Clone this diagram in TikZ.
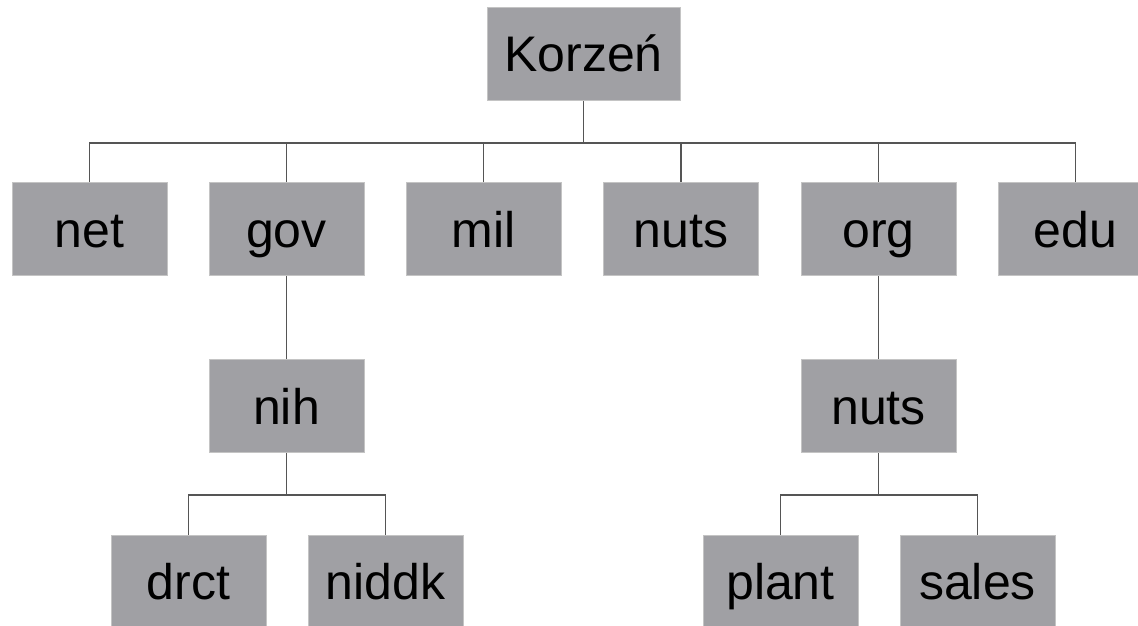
\documentclass[tikz,border=0pt]{standalone}
\usepackage{fontspec}
\setmainfont{Liberation Sans}
\definecolor{boxfill}{HTML}{A0A0A4}
\definecolor{boxline}{HTML}{C4C4C4}
\definecolor{conn}{HTML}{555555}
\begin{document}
\begin{tikzpicture}[x=1pt,y=-1pt,
  box/.style={draw=boxline, line width=1pt, fill=boxfill, minimum width=155pt, minimum height=93pt, inner sep=0pt,
    text height=40pt, text depth=4pt,
    font=\fontsize{50}{60}\selectfont, text=black, anchor=center},
  link/.style={draw=conn, line width=1.3pt}]
\useasboundingbox (0,0) rectangle (1138,626);
\clip (0,0) rectangle (1138,626);
\node[box, minimum width=193pt] (root) at (583.5,54) {Korzeń};
\node[box] (net) at (89.5,229) {net};
\node[box] (gov) at (286.5,229) {gov};
\node[box] (mil) at (483.5,229) {mil};
\node[box] (nuts) at (681,229) {nuts};
\node[box] (org) at (878.5,229) {org};
\node[box] (edu) at (1075.5,229) {edu};
\node[box] (nih) at (286.5,406) {nih};
\node[box] (nuts2) at (878.5,406) {nuts};
\node[box] (drct) at (188.5,581.5) {drct};
\node[box] (niddk) at (385.5,581.5) {niddk};
\node[box] (plant) at (780.5,581.5) {plant};
\node[box] (sales) at (977.5,581.5) {sales};
\coordinate (j0) at (583.5,143);
\coordinate (j1) at (286.5,495);
\coordinate (j2) at (878.5,495);
\draw[link] (root.south) -- (j0);
\foreach \c in {net,gov,mil,nuts,org,edu} \draw[link] (\c.north) |- (j0);
\draw[link] (gov.south) -- (nih.north);
\draw[link] (org.south) -- (nuts2.north);
\draw[link] (nih.south) -- (j1);
\draw[link] (drct.north) |- (j1);
\draw[link] (niddk.north) |- (j1);
\draw[link] (nuts2.south) -- (j2);
\draw[link] (plant.north) |- (j2);
\draw[link] (sales.north) |- (j2);
\end{tikzpicture}
\end{document}
